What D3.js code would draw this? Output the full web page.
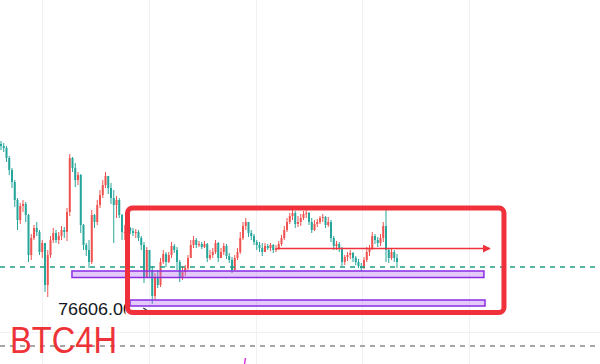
<!DOCTYPE html>
<html>
<head>
<meta charset="utf-8">
<script src="https://cdn.jsdelivr.net/npm/d3@7"></script>
<style>
html,body{margin:0;padding:0;background:#fff;}
svg{display:block;}
</style>
</head>
<body>
<svg id="chart" width="600" height="364"></svg>
<script>
// ---- data (BTC 4H candles) ----
const opens = [92600,92400,92200,91200,90000,88800,87000,85000,86400,86600,85500,81500,83200,84200,83800,81800,82700,78500,81500,83000,83700,83000,83400,84000,83800,85800,91200,90200,89000,89500,84500,82500,82000,80800,85500,84800,86500,87500,88500,89400,88200,87200,86500,87000,85500,83800,83800,84200,83900,83700,83800,83200,82500,79200,82000,80000,77400,79200,78500,80800,81600,80800,81500,82400,82000,80800,79200,79800,80200,81200,82500,83000,82500,82600,82300,82600,81200,81500,81800,82700,81200,81800,82400,81400,81000,80000,81200,81800,83200,84400,84800,83700,83400,82800,82500,82200,81800,82400,82200,82500,82000,82200,82600,83200,84000,84800,85400,85700,84600,84800,85200,85600,85700,84800,84000,84600,84800,85200,85300,84500,84800,83200,82400,82600,82200,80800,81300,81500,81700,81200,80800,80400,80200,81000,81800,82200,83400,83000,82700,83200,84400,82000,81200,81800,81200];
const closes = [92400,92200,91200,90000,88800,87000,85000,86400,86600,85500,81500,83200,84200,83800,81800,82700,78500,81500,83000,83700,83000,83400,84000,83800,85800,91200,90200,89000,89500,84500,82500,82000,80800,85500,84800,86500,87500,88500,89400,88200,87200,86500,87000,85500,83800,83800,84200,83900,83700,83800,83200,82500,79200,82000,80000,77400,79200,78500,80800,81600,80800,81500,82400,82000,80800,79200,79800,80200,81200,82500,83000,82500,82600,82300,82600,81200,81500,81800,82700,81200,81800,82400,81400,81000,80000,81200,81800,83200,84400,84800,83700,83400,82800,82500,82200,81800,82400,82200,82500,82000,82200,82600,83200,84000,84800,85400,85700,84600,84800,85200,85600,85700,84800,84000,84600,84800,85200,85300,84500,84800,83200,82400,82600,82200,80800,81300,81500,81700,81200,80800,80400,80200,81000,81800,82200,83400,83000,82700,83200,84400,82000,81200,81800,81200,80800];
const highs = [92900,92700,92400,91400,90200,89000,87200,86700,87000,86800,85600,83600,84500,84800,84000,83000,82700,82000,83400,84200,84000,83800,84400,84300,86200,91600,91300,90700,89800,89600,84600,82700,83000,86000,85600,87000,88000,89000,89800,89400,88700,88000,87400,87200,85600,84500,84400,84300,84200,84100,84000,83400,82800,82300,82000,80400,79700,80000,81200,82000,81800,81800,82800,82600,82300,81000,80400,80500,81500,83000,83400,83200,82900,82800,82900,82700,82000,82200,83000,82800,82200,82700,82600,81700,81300,81500,82200,83800,84800,85200,84800,84000,83600,83000,82800,82700,82700,82600,82700,82600,82500,82900,83500,84400,85200,85700,86000,85900,85400,85600,85900,86000,85800,85200,85000,85100,85400,85600,85400,85300,85000,83400,82900,82800,82300,81500,81800,82000,81800,81400,81100,80700,81300,82300,82500,83800,83600,83300,83600,84800,86000,82200,82100,82000,81600];
const lows = [92000,91800,90800,89500,88200,86300,84000,84600,85800,84800,80800,81000,83000,83400,81500,81200,77800,77300,81200,82700,82700,82600,83000,83200,82900,85400,89800,88300,88500,83700,82000,81400,80200,80600,84200,84500,86200,87200,88200,87600,86600,82700,85200,85200,83000,83000,83400,83600,83400,83200,82900,82000,78700,79200,79300,76606,77000,78200,78300,80600,80300,80700,81200,81700,80000,78800,79000,79400,80000,81200,82200,82200,82300,82100,82200,80800,81000,81200,81600,80800,81300,81500,81100,80700,79700,80200,81000,81600,83000,84000,83300,83000,82500,82000,81800,81400,81800,82000,81900,81700,81800,82000,82400,83000,83800,84600,85000,84200,84300,84400,85000,85200,84500,83700,83900,84300,84600,84800,84200,84300,82800,82000,82000,81800,80400,80500,80900,81100,80800,80500,80200,79900,80100,80800,81400,82000,82600,82300,82400,82800,80800,80700,81000,80800,80200];

// drawings (prices and candle-index positions)
const gridTimeIdx = [14.9, 53.8, 92.7, 131.3, 170.2];
const gridPrices = [73800];
const supportDashPrice = 80300;
const lowerDashPrice = 72400;
const zones = [
  {i0: 25.8, i1: 175.6, top: 79900, bottom: 79250},
  {i0: 46.9, i1: 176.0, top: 77000, bottom: 76400}
];
const rangeBox = {i0: 46.0, i1: 182.9, top: 86200, bottom: 75750};
const arrowLine = {i0: 100.3, i1: 177.8, price: 82150};
const lowLabel = {text: "76606.00", idx: 55, price: 76606};
const titleText = "BTC4H";

// ---- drawing ----
const W = 600, H = 364;
const svg = d3.select("#chart");
const x = d3.scaleLinear().domain([0, 144]).range([1, 397]);
const y = d3.scaleLinear().domain([77000, 93000]).range([300, 140]);

const UP = "#ef5350", DOWN = "#26a69a";

// grid
svg.append("g").selectAll("line").data(gridTimeIdx).join("line")
  .attr("x1", d => Math.round(x(d)) + 0.5).attr("x2", d => Math.round(x(d)) + 0.5)
  .attr("y1", 0).attr("y2", H).attr("stroke", "#f0f1f4").attr("stroke-width", 1);
svg.append("g").selectAll("line").data(gridPrices).join("line")
  .attr("x1", 0).attr("x2", W)
  .attr("y1", d => Math.round(y(d)) + 0.5).attr("y2", d => Math.round(y(d)) + 0.5)
  .attr("stroke", "#f0f1f4").attr("stroke-width", 1);

// candles
const candles = closes.map((c, i) => ({i, o: opens[i], c, h: Math.max(highs[i], opens[i], c), l: Math.min(lows[i], opens[i], c)}));
const cg = svg.append("g");
cg.selectAll("line").data(candles).join("line")
  .attr("x1", d => x(d.i)).attr("x2", d => x(d.i))
  .attr("y1", d => y(d.h)).attr("y2", d => y(d.l))
  .attr("stroke", d => d.c >= d.o ? UP : DOWN).attr("stroke-width", 1);
cg.selectAll("rect").data(candles).join("rect")
  .attr("x", d => x(d.i) - 1).attr("width", 2)
  .attr("y", d => y(Math.max(d.o, d.c)))
  .attr("height", d => Math.max(1, Math.abs(y(d.o) - y(d.c))))
  .attr("fill", d => d.c >= d.o ? UP : DOWN);

// dashed horizontal lines
svg.append("line").attr("x1", 0).attr("x2", W)
  .attr("y1", y(supportDashPrice)).attr("y2", y(supportDashPrice))
  .attr("stroke", "#1f9e84").attr("stroke-width", 1.5).attr("stroke-dasharray", "5,5");
svg.append("line").attr("x1", 0).attr("x2", W)
  .attr("y1", y(lowerDashPrice)).attr("y2", y(lowerDashPrice))
  .attr("stroke", "#8a8a8a").attr("stroke-width", 1.5).attr("stroke-dasharray", "5,5");

// purple zones
svg.append("g").selectAll("rect").data(zones).join("rect")
  .attr("x", d => x(d.i0)).attr("width", d => x(d.i1) - x(d.i0))
  .attr("y", d => y(d.top)).attr("height", d => y(d.bottom) - y(d.top))
  .attr("fill", "rgba(178, 102, 240, 0.35)").attr("stroke", "#8a2be2").attr("stroke-width", 1.5);

// red arrow
const defs = svg.append("defs");
defs.append("marker").attr("id", "arr").attr("viewBox", "0 0 10 10")
  .attr("refX", 9).attr("refY", 5).attr("markerWidth", 5).attr("markerHeight", 5)
  .attr("orient", "auto").attr("markerUnits", "strokeWidth")
  .append("path").attr("d", "M0,0 L10,5 L0,10 z").attr("fill", "#f0303a");
svg.append("line").attr("x1", x(arrowLine.i0)).attr("x2", x(arrowLine.i1))
  .attr("y1", y(arrowLine.price)).attr("y2", y(arrowLine.price))
  .attr("stroke", "#f0303a").attr("stroke-width", 1.6).attr("marker-end", "url(#arr)");

// low label, clipped by the box edge
defs.append("clipPath").attr("id", "lblclip").append("rect")
  .attr("x", 0).attr("y", 0).attr("width", x(rangeBox.i0) - 2).attr("height", H);
svg.append("text").attr("clip-path", "url(#lblclip)")
  .attr("x", 58).attr("y", y(lowLabel.price) + 11.5)
  .attr("font-family", "'Liberation Sans', Arial, sans-serif").attr("font-size", 17)
  .attr("textLength", 75).attr("lengthAdjust", "spacingAndGlyphs")
  .attr("fill", "#131722").text(lowLabel.text);
svg.append("line").attr("x1", x(lowLabel.idx) - 9).attr("y1", y(lowLabel.price) + 4)
  .attr("x2", x(lowLabel.idx) - 5).attr("y2", y(lowLabel.price) + 6.5)
  .attr("stroke", "#333").attr("stroke-width", 1.2);

// red range box
svg.append("rect")
  .attr("x", x(rangeBox.i0)).attr("width", x(rangeBox.i1) - x(rangeBox.i0))
  .attr("y", y(rangeBox.top)).attr("height", y(rangeBox.bottom) - y(rangeBox.top))
  .attr("rx", 5).attr("ry", 5)
  .attr("fill", "none").attr("stroke", "#f0303a").attr("stroke-width", 5);

// small magenta mark at bottom edge
svg.append("line").attr("x1", 245.5).attr("y1", 358).attr("x2", 244.5).attr("y2", 364)
  .attr("stroke", "#d63ad6").attr("stroke-width", 1.5);

// title
svg.append("text").attr("x", 10).attr("y", 352.5)
  .attr("font-family", "'Liberation Sans', Arial, sans-serif").attr("font-size", 36)
  .attr("textLength", 107).attr("lengthAdjust", "spacingAndGlyphs")
  .attr("fill", "#ee3338").text(titleText);
</script>
</body>
</html>
